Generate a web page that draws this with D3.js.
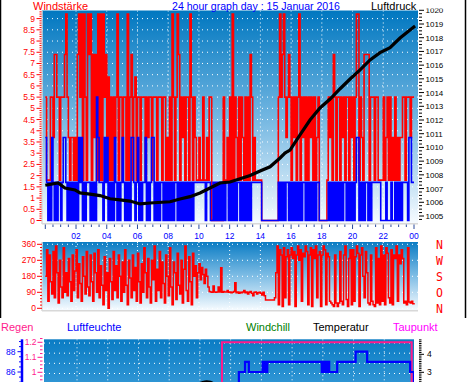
<!DOCTYPE html>
<html><head><meta charset="utf-8">
<script src="https://cdn.jsdelivr.net/npm/d3@7"></script>
<style>body{margin:0;background:#fff;}svg{display:block;font-family:"Liberation Sans",Arial,sans-serif;}</style>
</head><body><svg id="c" width="470" height="382"></svg>
<script>
// ---------- data ----------
const hourLabels = ["02","04","06","08","10","12","14","16","18","20","22","00"];
const windTicks = [0,0.5,1,1.5,2,2.5,3,3.5,4,4.5,5,5.5,6,6.5,7,7.5,8,8.5,9];
const pressureTicks = [1005,1006,1007,1008,1009,1010,1011,1012,1013,1014,1015,1016,1017,1018,1019,1020];
const dirTicks = [0,90,180,270,360];
const dirLetters = ["N","W","S","O","N"];
// gusts, 5-minute samples from 00:00 (one row per hour)
const gust = [
5.5,1.8,1.8,1.8,5.5,5.5,3.7,7.4,7.4,5.5,5.5,1.8,
5.5,5.5,5.5,7.4,9.2,5.5,3.7,1.8,3.7,3.7,1.8,3.7,
1.8,7.4,9.2,5.5,9.2,1.8,9.2,5.5,1.8,9.2,7.4,9.2,
1.8,7.4,3.7,7.4,1.8,9.2,1.8,9.2,1.8,9.2,5.5,7.4,
1.8,6.4,1.8,5.5,1.8,5.5,3.7,5.5,9.2,1.8,5.5,5.5,
1.8,5.5,5.5,1.8,9.2,1.8,5.5,7.4,1.8,5.5,6.4,1.8,
5.5,5.5,1.8,5.5,5.5,5.5,1.8,5.5,3.7,5.5,5.5,1.8,
5.5,5.5,5.5,1.8,5.5,5.5,5.5,1.8,5.5,5.5,1.8,3.7,
1.8,5.5,1.8,9.2,5.5,1.8,5.5,9.2,7.4,1.8,5.5,3.7,
5.5,1.8,5.5,5.5,1.8,9.2,5.5,1.8,5.5,3.7,1.8,1.8,
3.7,1.8,1.8,5.5,1.8,1.8,3.7,1.8,5.5,5.5,0,0,
0,0,0,0,0,0,0,5.5,1.8,1.8,3.7,1.8,
5.5,1.8,9.2,1.8,5.5,3.7,1.8,5.5,1.8,5.5,3.7,1.8,
5.5,1.8,5.5,1.8,7.4,5.5,1.8,3.7,1.8,1.8,1.8,1.8,
1.8,0,0,0,0,0,0,0,0,0,0,0,
0,0,5.5,9.2,5.5,7.4,9.2,5.5,3.7,5.5,7.4,5.5,
1.8,5.5,3.7,5.5,1.8,5.5,9.2,1.8,5.5,3.7,5.5,1.8,
5.5,1.8,5.5,3.7,5.5,1.8,5.5,1.8,3.7,5.5,0,0,
0,0,0,0,1.8,5.5,3.7,5.5,1.8,7.4,5.5,1.8,
5.5,5.5,1.8,5.5,3.7,5.5,1.8,5.5,5.5,1.8,5.5,3.7,
5.5,1.8,5.5,9.2,9.2,1.8,5.5,3.7,1.8,7.4,7.4,7.4,
7.4,1.8,5.5,5.5,5.5,1.8,5.5,5.5,1.8,1.8,1.8,1.8,
5.5,1.8,3.7,5.5,1.8,5.5,1.8,3.7,1.8,5.5,1.8,3.7,
1.8,3.7,3.7,5.5,5.5,1.8,5.5,5.5,5.5,3.7,5.5,5.5];
// mean wind, 5-minute samples
const speed = [
3.7,1.7,0,1.7,0,3.7,1.7,0,1.7,0,1.7,1.7,
0,1.7,3.7,3.7,1.7,0,1.7,0,1.7,0,1.7,0,
1.7,0,3.7,1.7,3.7,0,1.7,0,1.7,1.7,1.7,0,
1.7,0,1.7,0,5.5,3.7,1.7,1.7,1.7,0,3.7,1.7,
3.7,0,1.7,0,1.7,0,3.7,1.7,0,1.7,0,1.7,
3.7,1.7,0,1.7,0,1.7,0,3.7,3.7,1.7,0,1.7,
3.7,0,1.7,0,1.7,1.7,3.7,0,1.7,0,1.7,3.7,
3.7,0,1.7,0,1.7,0,1.7,1.7,0,1.7,0,1.7,
0,1.7,0,1.7,0,1.7,1.7,0,1.7,0,1.7,0,
1.7,0,1.7,0,1.7,0,1.7,0,1.7,1.7,1.7,1.7,
1.7,1.7,1.7,1.7,1.7,0,1.7,1.7,1.7,0,0,1.7,
0,1.7,0,1.7,0,1.7,0,1.7,0,1.7,1.7,0,
1.7,0,1.7,0,1.7,0,1.7,1.7,0,1.7,0,1.7,
0,1.7,0,1.7,0,1.7,1.7,1.7,1.7,1.7,1.7,1.7,
1.7,0,0,0,0,0,0,0,0,0,0,0,
0,0,1.7,0,1.7,0,1.7,0,1.7,1.7,0,1.7,
0,1.7,0,1.7,0,1.7,0,1.7,0,1.7,1.7,0,
1.7,0,1.7,0,1.7,0,1.7,0,1.7,1.7,0,0,
0,0,0,0,0,1.7,0,1.7,0,1.7,0,1.7,
0,1.7,0,1.7,0,1.7,1.7,0,1.7,0,1.7,0,
1.7,0,1.7,3.7,3.7,0,1.7,0,1.7,0,1.7,1.7,
0,1.7,0,1.7,1.7,1.7,1.7,1.7,1.7,1.7,0,0,
0,0,1.7,0,0,0,1.7,0,0,1.7,0,1.7,
0,1.7,0,1.7,1.7,1.7,1.7,0,3.7,3.7,1.7,1.7];
// pressure readings (hour, hPa)
const pressHours = [0,0.83,1.28,1.93,2.26,2.91,3.56,4.21,4.86,5.51,6.17,6.82,8.12,8.77,9.42,10.07,10.72,11.37,12.02,12.68,13.33,13.98,14.63,15.28,15.6,15.93,16.58,17.23,17.88,18.54,19.19,19.84,20.49,21.14,21.79,22.44,23.09,23.74,24.07];
const pressure = [1007.24,1007.41,1007.04,1006.90,1006.68,1006.60,1006.49,1006.26,1006.17,1006.09,1005.88,1005.95,1006.04,1006.24,1006.41,1006.68,1007.04,1007.41,1007.48,1007.72,1007.95,1008.28,1008.59,1009.23,1009.59,1009.81,1010.91,1012.00,1012.88,1013.53,1014.28,1014.99,1015.65,1016.38,1016.91,1017.27,1017.98,1018.56,1018.85];
// wind direction, 5-minute samples
const direction = [
180,330,40,300,150,80,320,60,350,200,30,270,
120,60,340,90,200,70,280,150,40,300,100,210,
330,60,250,140,40,290,180,80,320,120,70,300,
150,40,310,200,90,330,60,240,130,20,290,100,
200,0,280,150,50,320,100,240,60,300,180,40,
260,90,330,130,20,270,170,60,300,100,230,40,
310,150,30,250,90,340,200,60,280,120,30,270,
160,350,40,220,100,320,60,260,140,30,300,180,
70,340,120,20,260,200,50,310,130,80,270,30,
220,350,100,40,290,150,20,310,180,240,60,200,
250,160,230,190,140,220,180,120,95,92,90,125,
92,90,92,120,92,228,90,95,92,92,100,90,
92,88,90,95,144,88,92,85,90,88,92,100,
88,92,80,90,95,85,70,90,92,80,88,90,
85,75,90,70,47,47,47,47,47,47,47,60,
200,350,20,330,300,10,340,60,290,330,20,300,
340,280,320,10,300,350,270,330,40,310,290,350,
320,20,300,340,10,330,280,350,60,300,320,10,
300,350,330,20,310,290,40,30,20,10,300,30,
10,30,320,40,20,300,350,50,10,280,330,20,
330,40,290,350,310,10,300,340,180,60,320,200,
30,20,300,40,20,10,340,30,280,20,350,40,
300,20,340,310,60,30,330,20,300,280,350,40,
300,250,330,280,30,40,20,340,35,30,40,25,30];
const rainHours = [0,11.5,23.85];
const rain = [0,1.2,0];
const humHours = [0,12.6,13.0,13.25,14.15,14.22,14.3,14.38,14.45,18.0,18.08,18.16,18.24,18.32,18.4,18.48,19.0,20.2,20.95,23.75,24];
const humidity = [84,86,87,86,87,86,87,86,87,86,87,86,87,86,87,86,87,88,87,86,84];
const tempHours = [8,9,10,10.25,10.5,10.75,11,12,13];
const temperature = [1.4,1.9,2.36,2.44,2.48,2.45,2.34,2.0,1.8];

// ---------- drawing ----------
const svg = d3.select("#c");
const defs = svg.append("defs");
function grad(id, stops){
  const g = defs.append("linearGradient").attr("id",id).attr("x1",0).attr("y1",0).attr("x2",0).attr("y2",1);
  stops.forEach(s=>g.append("stop").attr("offset",s[0]).attr("stop-color",s[1]));
}
grad("gTop",[[0,"#0077c0"],[0.5,"#72b6e1"],[1,"#f6fbff"]]);
grad("gDir",[[0,"#0a7cc4"],[0.5,"#7fbde5"],[1,"#f6fbff"]]);
grad("gBot",[[0,"#0a7cc4"],[1,"#3398d6"]]);

const x = d3.scaleLinear().domain([0,24]).range([45.3,414]);
const PL=42, PR=418;
// ---- top panel
const T0=10.5, T1=223;
const yW = d3.scaleLinear().domain([0,9]).range([220.5,18.6]);
const yP = d3.scaleLinear().domain([1005,1019]).range([216,24]);
svg.append("rect").attr("x",PL).attr("y",T0).attr("width",PR-PL).attr("height",T1-T0).attr("fill","url(#gTop)");
defs.append("clipPath").attr("id","cTop").append("rect").attr("x",PL).attr("y",T0).attr("width",PR-PL).attr("height",T1-T0);
const gT = svg.append("g").attr("clip-path","url(#cTop)");
windTicks.filter(v=>v>0).forEach(v=>gT.append("line").attr("x1",PL).attr("x2",PR).attr("y1",yW(v)).attr("y2",yW(v)).attr("stroke","#fff").attr("stroke-dasharray","1,4"));
d3.range(2,24,2).forEach(h=>gT.append("line").attr("x1",x(h)).attr("x2",x(h)).attr("y1",T0).attr("y2",T1).attr("stroke","#fff").attr("stroke-dasharray","1,3"));
const t5 = d3.range(289).map(i=>i/12);
const stepW = d3.line().x(d=>x(d[0])).y(d=>yW(d[1])).curve(d3.curveStepAfter);
const gustPts = t5.map((t,i)=>[t, gust[Math.min(i,gust.length-1)]]);
const speedPts = t5.map((t,i)=>[t, speed[Math.min(i,speed.length-1)]]);
gT.append("path").attr("d",stepW(gustPts)).attr("fill","none").attr("stroke","#ff0000").attr("stroke-width",1.6);
gT.append("path").attr("d",stepW(speedPts)).attr("fill","none").attr("stroke","#0000ff").attr("stroke-width",1.6);
const lineP = d3.line().x((d,i)=>x(pressHours[i])).y(d=>yP(d)).curve(d3.curveLinear);
gT.append("path").attr("d",lineP(pressure)).attr("fill","none").attr("stroke","#000").attr("stroke-width",3.2);
svg.append("line").attr("x1",PL).attr("x2",PL).attr("y1",T0).attr("y2",T1+1).attr("stroke","#d8d8d8").attr("stroke-width",1.5);
svg.append("line").attr("x1",PL).attr("x2",PR).attr("y1",T1+0.8).attr("y2",T1+0.8).attr("stroke","#d8d8d8").attr("stroke-width",1.5);
d3.range(0,24.01,0.5).forEach(h=>{
  const maj = (h%2===0);
  svg.append("line").attr("x1",x(h)).attr("x2",x(h)).attr("y1",T1+1.5).attr("y2",T1+(maj?6:4)).attr("stroke","#2c4c9c").attr("stroke-width",1);
});
hourLabels.forEach((lab,i)=>svg.append("text").attr("x",x((i+1)*2)).attr("y",238.5).attr("text-anchor","middle").attr("font-size",8.5).attr("fill","#0000ff").text(lab));
d3.range(0,94).forEach(k=>{const v=k/10; const maj=(k%5===0);
  svg.append("line").attr("x1",maj?36.5:39.5).attr("x2",41.5).attr("y1",yW(v)).attr("y2",yW(v)).attr("stroke","#ff0000").attr("stroke-width",1);});
windTicks.forEach(v=>svg.append("text").attr("x",35).attr("y",yW(v)+3).attr("text-anchor","end").attr("font-size",8.5).attr("fill","#ff0000").text(v));
d3.range(0,63).forEach(k=>{const v=1004.75+k*0.25; const maj=(Math.abs(v-Math.round(v))<1e-6); const yy=yP(v); if(yy<T0-2||yy>T1)return;
  svg.append("line").attr("x1",419).attr("x2",maj?424:422).attr("y1",yy).attr("y2",yy).attr("stroke","#000").attr("stroke-width",1);});
pressureTicks.forEach(v=>svg.append("text").attr("x",425.5).attr("y",yP(v)+3).attr("font-size",8).attr("fill","#000").text(v));
svg.append("rect").attr("x",0).attr("y",0).attr("width",470).attr("height",8.5).attr("fill","#fff");
svg.append("text").attr("x",33).attr("y",9.5).attr("font-size",11).attr("fill","#ff0000").text("Windstärke");
svg.append("text").attr("x",172).attr("y",9.5).attr("font-size",11).attr("fill","#0000ff").attr("textLength",168).attr("lengthAdjust","spacingAndGlyphs").text("24 hour graph day : 15 Januar 2016");
svg.append("text").attr("x",371).attr("y",9.5).attr("font-size",11).attr("fill","#000").text("Luftdruck");

// ---- direction panel
const D0=242, D1=310;
const yD = d3.scaleLinear().domain([0,360]).range([308.3,244.3]);
svg.append("rect").attr("x",PL).attr("y",D0).attr("width",PR-PL).attr("height",D1-D0).attr("fill","url(#gDir)");
defs.append("clipPath").attr("id","cDir").append("rect").attr("x",PL).attr("y",D0).attr("width",PR-PL).attr("height",D1-D0);
const gD = svg.append("g").attr("clip-path","url(#cDir)");
dirTicks.forEach(v=>gD.append("line").attr("x1",PL).attr("x2",PR).attr("y1",yD(v)).attr("y2",yD(v)).attr("stroke","#fff").attr("stroke-dasharray","1,4"));
d3.range(2,24,2).forEach(h=>gD.append("line").attr("x1",x(h)).attr("x2",x(h)).attr("y1",D0).attr("y2",D1).attr("stroke","#fff").attr("stroke-dasharray","1,3"));
const lineD = d3.line().x((d,i)=>x(i/12)).y(d=>yD(d)).curve(d3.curveStepAfter);
gD.append("path").attr("d",lineD(direction)).attr("fill","none").attr("stroke","#ff0000").attr("stroke-width",1.5);
svg.append("line").attr("x1",PL).attr("x2",PL).attr("y1",D0).attr("y2",D1+1).attr("stroke","#d8d8d8").attr("stroke-width",1.5);
svg.append("line").attr("x1",PL).attr("x2",PR).attr("y1",D1+0.8).attr("y2",D1+0.8).attr("stroke","#d8d8d8").attr("stroke-width",1.5);
d3.range(0,21).forEach(k=>{const v=k*18; const maj=(v%90===0);
  svg.append("line").attr("x1",maj?37:40).attr("x2",42).attr("y1",yD(v)).attr("y2",yD(v)).attr("stroke","#ff0000").attr("stroke-width",1);});
dirTicks.forEach(v=>svg.append("text").attr("x",36).attr("y",yD(v)+3).attr("text-anchor","end").attr("font-size",8.5).attr("fill","#ff0000").text(v));
dirLetters.forEach((l,i)=>svg.append("text").attr("x",439.5).attr("y",yD(dirTicks[4-i])+4.5).attr("text-anchor","middle").attr("font-family","DejaVu Sans Mono, monospace").attr("font-size",11.5).attr("fill","#ff0000").text(l));

svg.append("line").attr("x1",0.5).attr("x2",0.5).attr("y1",0).attr("y2",318).attr("stroke","#000").attr("stroke-width",1.5);
svg.append("line").attr("x1",465.5).attr("x2",465.5).attr("y1",0).attr("y2",318).attr("stroke","#000").attr("stroke-width",1.5);

// ---- bottom panel
const B0=339.3, B1=382, BL=44, BR=414;
const yH = d3.scaleLinear().domain([86,88]).range([372,351.7]);
const yR = d3.scaleLinear().domain([1,1.2]).range([372.3,342.3]);
const yT = d3.scaleLinear().domain([3,4]).range([372.3,354.3]);
svg.append("rect").attr("x",BL).attr("y",B0).attr("width",BR-BL).attr("height",B1-B0+5).attr("fill","url(#gBot)");
defs.append("clipPath").attr("id","cBot").append("rect").attr("x",BL).attr("y",B0).attr("width",BR-BL).attr("height",B1-B0+5);
const gB = svg.append("g").attr("clip-path","url(#cBot)");
[89,88,87,86].forEach(v=>gB.append("line").attr("x1",BL).attr("x2",BR).attr("y1",yH(v)+1.5).attr("y2",yH(v)+1.5).attr("stroke","#fff").attr("stroke-dasharray","1,4"));
d3.range(2,24,2).forEach(h=>gB.append("line").attr("x1",x(h)+1).attr("x2",x(h)+1).attr("y1",B0).attr("y2",B1+5).attr("stroke","#fff").attr("stroke-dasharray","1,3"));
const lineT = d3.line().x((d,i)=>x(tempHours[i])).y(d=>yT(d)).curve(d3.curveMonotoneX);
gB.append("path").attr("d",lineT(temperature)).attr("fill","none").attr("stroke","#000").attr("stroke-width",3);
const lineR = d3.line().x((d,i)=>x(rainHours[i])).y(d=>yR(d)).curve(d3.curveStepAfter);
gB.append("path").attr("d",lineR(rain)).attr("fill","none").attr("stroke","#ff1a8c").attr("stroke-width",2);
const lineH = d3.line().x((d,i)=>x(humHours[i])).y(d=>yH(d)).curve(d3.curveStepAfter);
gB.append("path").attr("d",lineH(humidity)).attr("fill","none").attr("stroke","#0000ff").attr("stroke-width",2.2);
svg.append("line").attr("x1",22).attr("x2",22).attr("y1",B0).attr("y2",B1).attr("stroke","#0000ff").attr("stroke-width",2.5);
d3.range(0,9).forEach(k=>{const v=89-k*0.5; const maj=(v%2===0); const yy=yH(v); if(yy<B0)return;
  svg.append("line").attr("x1",maj?17.5:19).attr("x2",21).attr("y1",yy).attr("y2",yy).attr("stroke","#0000ff").attr("stroke-width",1);});
[88,86].forEach(v=>svg.append("text").attr("x",15.5).attr("y",yH(v)+3).attr("text-anchor","end").attr("font-size",8.5).attr("fill","#0000ff").text(v));
d3.range(0,12).forEach(k=>{const v=1.225-k*0.025; const yy=yR(v); if(yy<B0-1)return; const maj=(Math.abs(v*10-Math.round(v*10))<1e-6);
  svg.append("line").attr("x1",maj?37.5:40).attr("x2",42.5).attr("y1",yy).attr("y2",yy).attr("stroke","#ff1a8c").attr("stroke-width",1);});
[1.2,1.1,1].forEach(v=>svg.append("text").attr("x",36.5).attr("y",yR(v)+3).attr("text-anchor","end").attr("font-size",8.5).attr("fill","#ff1a8c").text(v));
d3.range(0,25).forEach(k=>{const v=2.5+k*0.1; const yy=yT(v); if(yy<B0||yy>B1)return; const maj=(Math.abs(v-Math.round(v))<1e-6);
  svg.append("line").attr("x1",419).attr("x2",maj?424:421.5).attr("y1",yy).attr("y2",yy).attr("stroke","#000").attr("stroke-width",1);});
[4,3].forEach(v=>svg.append("text").attr("x",427).attr("y",yT(v)+3).attr("font-size",8.5).attr("fill","#000").text(v));
[["Regen",1,"#ff1a8c"],["Luftfeuchte",67,"#0000ff"],["Windchill",246,"#008000"],["Temperatur",313,"#000"],["Taupunkt",393,"#ff00ff"]]
 .forEach(d=>svg.append("text").attr("x",d[1]).attr("y",330.5).attr("font-size",11).attr("fill",d[2]).text(d[0]));
</script></body></html>
